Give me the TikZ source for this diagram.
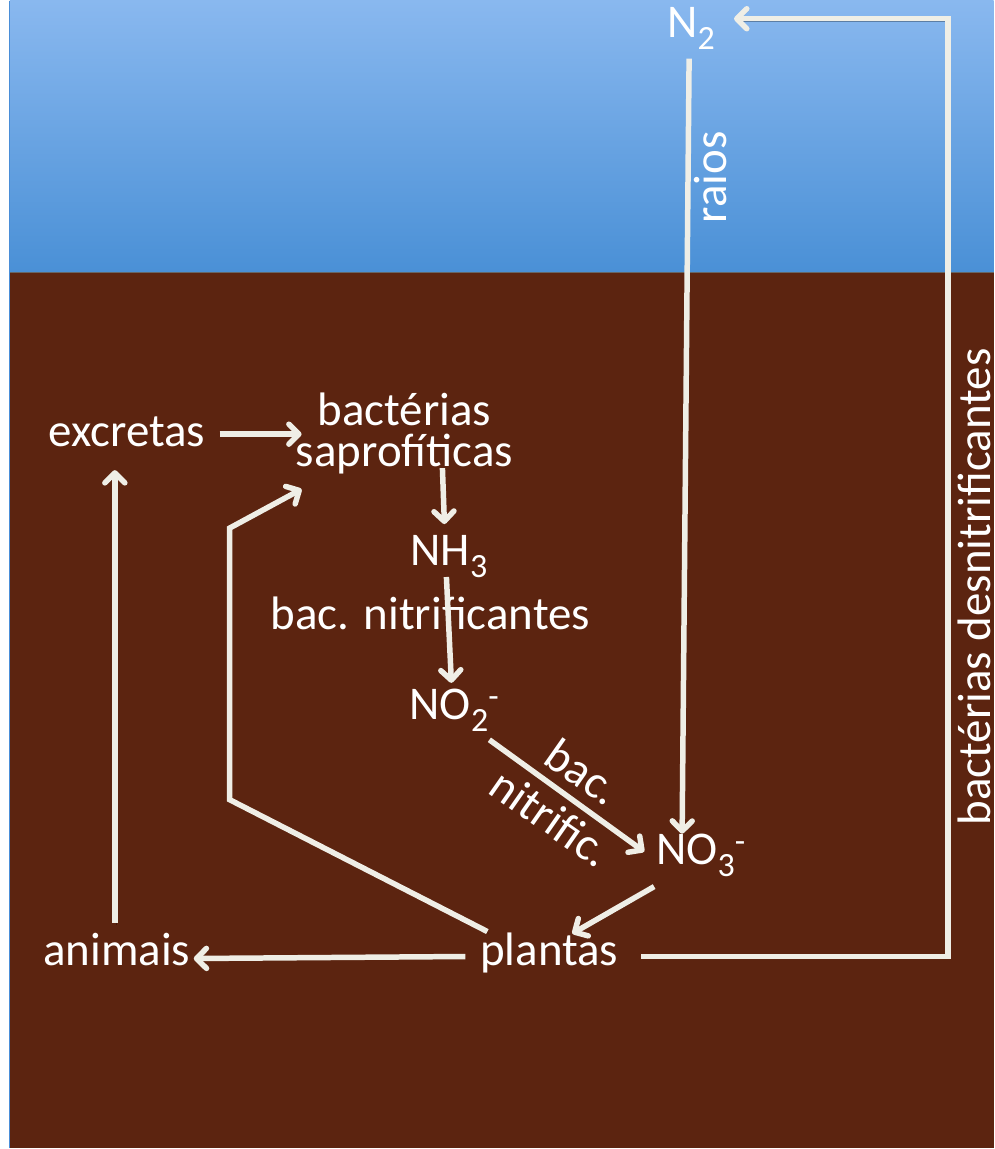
\documentclass[tikz,border=0pt]{standalone}
\usepackage{fontspec}
\setmainfont{Carlito}
\usetikzlibrary{arrows.meta,calc}
\definecolor{skytop}{HTML}{89B8EF}
\definecolor{skybot}{HTML}{4A90D6}
\definecolor{soil}{HTML}{5C2410}
\definecolor{linec}{HTML}{EFEEE6}
\definecolor{edgeblue}{HTML}{4A8ED8}
\newcommand\subx[1]{\raisebox{-12pt}{\fontsize{34}{34}\selectfont #1}}
\newcommand\supx[1]{\raisebox{12pt}{\fontsize{34}{34}\selectfont #1}}
\begin{document}
\begin{tikzpicture}[x=1pt,y=-1pt,
  lbl/.style={text=white,inner sep=0pt,font=\fontsize{47}{56}\selectfont},
  shad/.style={preaction={draw=black,opacity=0.3,transform canvas={shift={(1.5pt,-2pt)}}}},
  ln/.style={draw=linec,line width=5.5pt,shad},
  arr/.style={ln,-{Straight Barb[round,length=10pt,width=20pt]}}]
% background
\fill[white] (0,0) rectangle (995,1149);
\shade[top color=skytop,bottom color=skybot] (10,0) rectangle (995,272);
\fill[soil] (10,272) rectangle (995,1149);
\draw[black!60,line width=1pt] (10,272) -- (995,272);
\draw[edgeblue,line width=1.5pt] (9.5,0) -- (9.5,1149);
% nodes
\node[lbl,anchor=base] (excretas) at (127,446) {excretas};
\node[lbl,anchor=center,align=center,font=\fontsize{47}{41}\selectfont] (bact) at (405,433) {bactérias\\saprofíticas};
\node[lbl,anchor=base west] (nh3) at (411,565) {NH\subx{3}};
\node[lbl,anchor=base] (bacnit) at (431,630) {bac. nitrificantes};
\node[lbl,anchor=base west] (no2) at (410,720) {NO\subx{2}\supx{-}};
\node[lbl,anchor=base west] (no3) at (657,865) {NO\subx{3}\supx{-}};
\node[lbl,anchor=base west] (n2) at (668,37) {N\subx{2}};
\node[lbl,anchor=base] (animais) at (117,966) {animais};
\node[lbl,anchor=base] (plantas) at (550,966) {plantas};
\node[lbl,anchor=base,rotate=90] (raios) at (727,177) {raios};
\node[lbl,anchor=base,rotate=90] (desnit) at (992,587) {bactérias desnitrificantes};
\node[lbl,anchor=center,rotate=-35,align=center] (bacnitric) at (568,795) {bac.\\nitrific.};
% connectors
\draw[arr] ($(excretas.base)+(93,-12)$) -- ($(bact.center)+(-103,1)$);
\draw[arr] ($(animais.base)+(-2,-43)$) -- ($(excretas.base)+(-12,24)$);
\draw[arr] ($(plantas.base)+(-62,-34)$) -- (230,800) -- (230,528) -- ($(bact.center)+(-103,56)$);
\draw[arr] ($(bact.center)+(38,35)$) -- ($(nh3.base west)+(34,-41)$);
\draw[arr] ($(nh3.base west)+(36,12)$) -- ($(no2.base west)+(42,-37)$);
\draw[arr] ($(no2.base west)+(80,20)$) -- ($(no3.base west)+(-12,-13)$);
\draw[arr] ($(n2.base west)+(22,21)$) -- ($(no3.base west)+(26,-31)$);
\draw[arr] ($(no3.base west)+(-2,22)$) -- ($(plantas.base)+(23,-32)$);
\draw[arr] ($(plantas.base)+(-84,-9)$) -- ($(animais.base)+(77,-7)$);
\draw[arr] ($(plantas.base)+(92,-9)$) -- (949,957) -- (949,18) -- ($(n2.base west)+(67,-19)$);
\end{tikzpicture}
\end{document}
